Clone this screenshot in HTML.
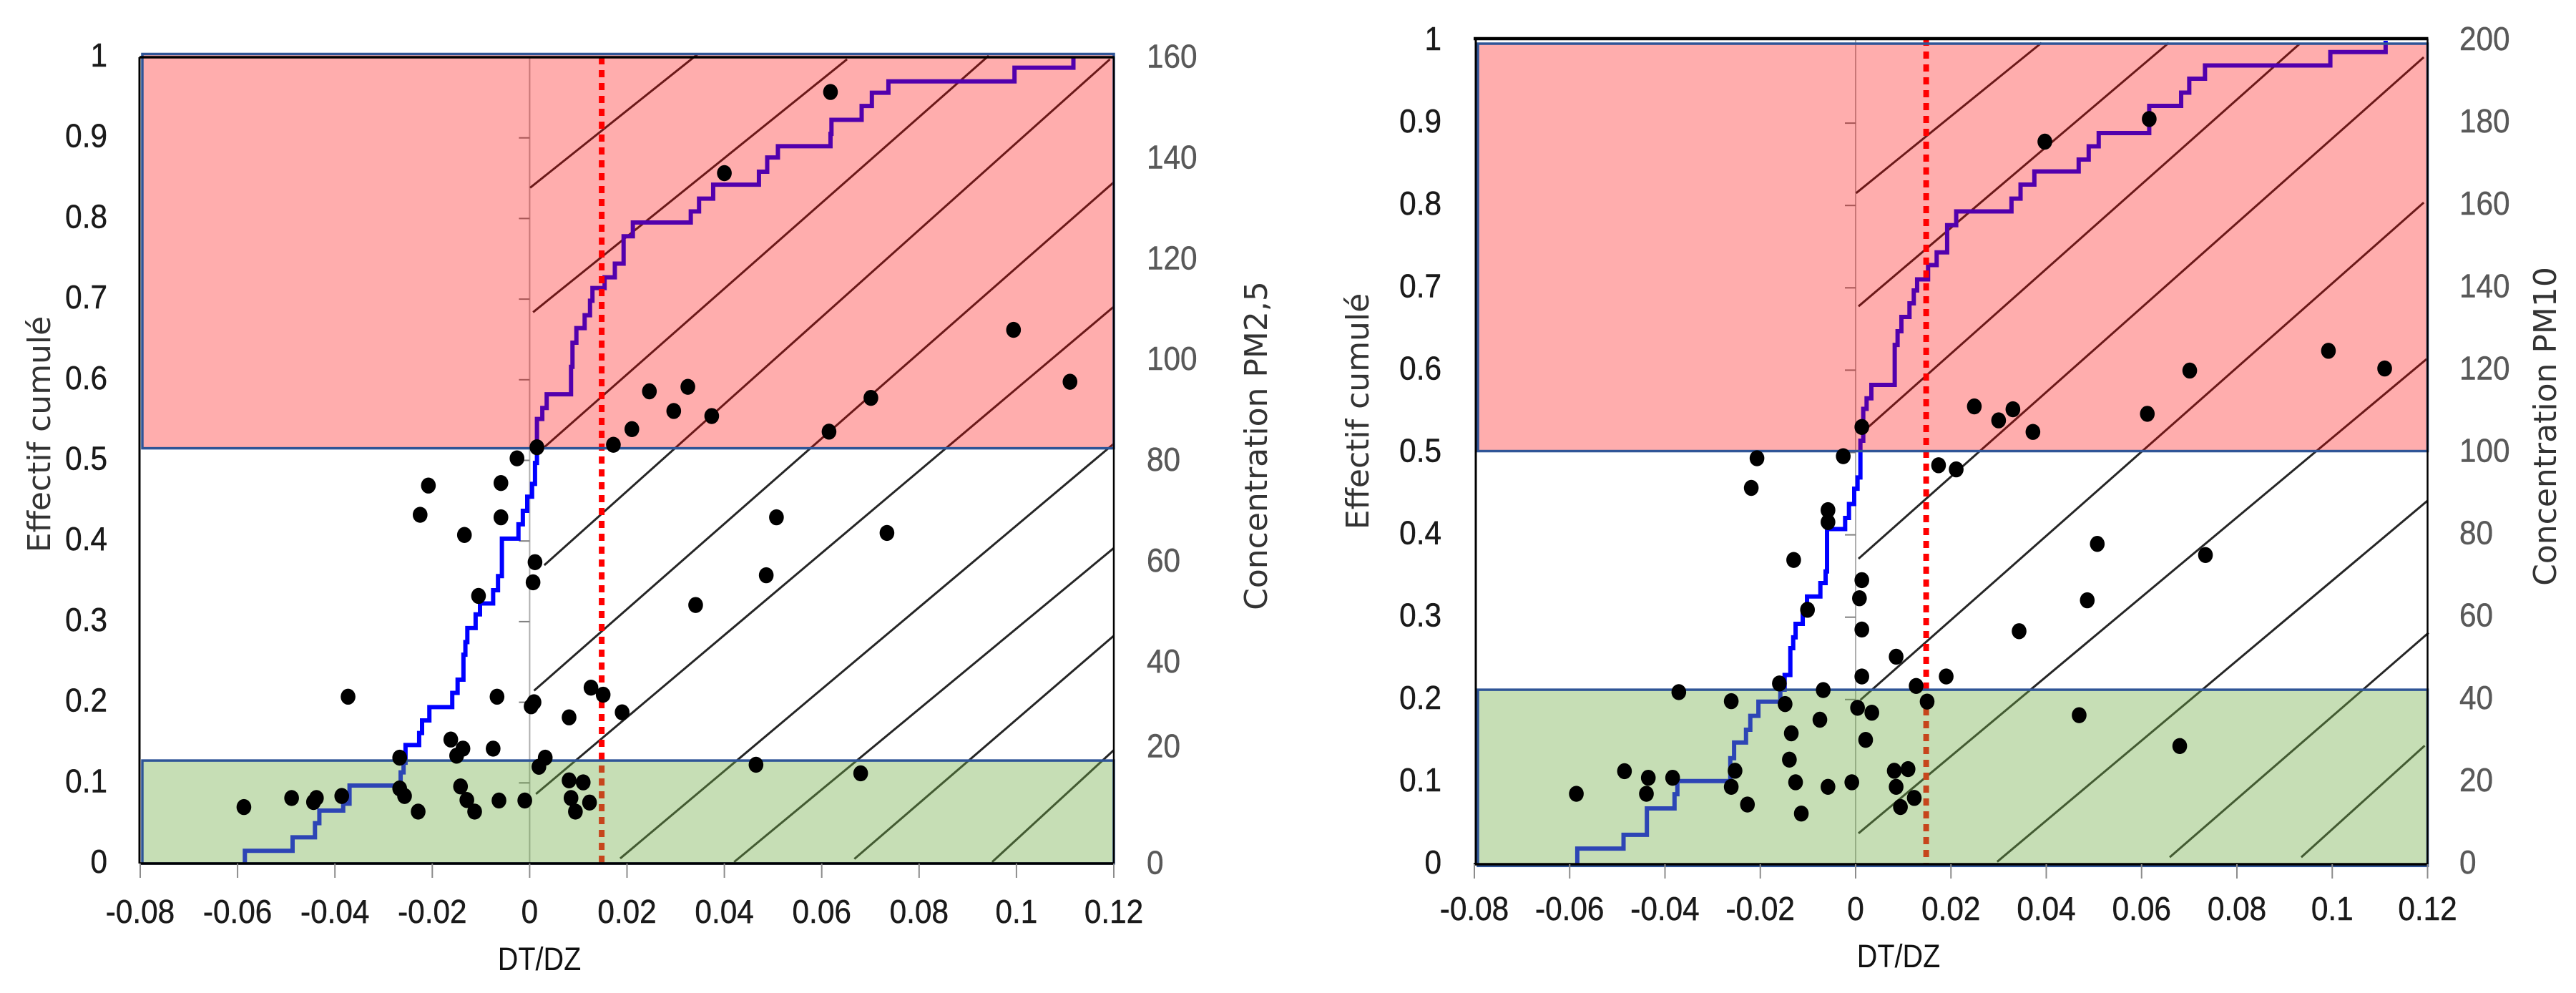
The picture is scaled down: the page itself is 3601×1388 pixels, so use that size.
<!DOCTYPE html>
<html lang="fr">
<head>
<meta charset="utf-8">
<title>Effectif cumulé et concentration en fonction de DT/DZ</title>
<style>
  html, body { margin: 0; padding: 0; background: #ffffff; }
  #figure { display: block; width: 3601px; height: 1388px; }
  .title { font-family: "DejaVu Sans", sans-serif; font-size: 44px; fill: #333333; }
  .xtitle { font-family: "Liberation Sans", sans-serif; font-size: 45px; fill: #111111; }
</style>
</head>
<body>
<svg id="figure" xmlns="http://www.w3.org/2000/svg" width="3601" height="1388" viewBox="0 0 3601 1388">
  <rect x="0" y="0" width="3601" height="1388" fill="#ffffff"/>
  <g id="panel-pm25"></g>
  <g id="panel-pm10"></g>
  <text class="title" text-anchor="middle" transform="translate(70,607) rotate(-90)">Effectif cumulé</text>
  <text class="title" text-anchor="middle" transform="translate(1771,623) rotate(-90)">Concentration PM2,5</text>
  <text class="xtitle" text-anchor="middle" transform="translate(754,1356) scale(0.88,1)">DT/DZ</text>
  <text class="title" text-anchor="middle" transform="translate(1913,575) rotate(-90)">Effectif cumulé</text>
  <text class="title" text-anchor="middle" transform="translate(3573,596) rotate(-90)">Concentration PM10</text>
  <text class="xtitle" text-anchor="middle" transform="translate(2654,1352) scale(0.88,1)">DT/DZ</text>
</svg>
<script>
// ---------- Shared axis values ----------
const xTicks = [-0.08, -0.06, -0.04, -0.02, 0, 0.02, 0.04, 0.06, 0.08, 0.1, 0.12];
const leftTicks = [0, 0.1, 0.2, 0.3, 0.4, 0.5, 0.6, 0.7, 0.8, 0.9, 1];
const thresholdDtdz = 0.0148;

// ---------- PM2.5 panel data ----------
const pm25RightTicks = [0, 20, 40, 60, 80, 100, 120, 140, 160];
const pm25Dtdz = [0.0015,-0.0026,-0.0208,-0.0059,0.0172,0.021,0.0246,0.0618,0.04,0.0994,0.111,0.0325,0.0296,0.0374,0.0701,0.0615,
  -0.0225,-0.0059,-0.0134,0.0011,0.0007,-0.0105,-0.0373,-0.0067,0.0009,0.0003,0.0126,0.0151,0.0081,0.019,-0.0162,-0.0137,-0.015,-0.0075,-0.0267,0.0032,0.0019,-0.0142,0.0081,0.011,-0.0267,-0.0257,-0.0386,-0.0489,-0.0438,-0.0444,-0.0587,-0.0229,-0.0129,-0.0113,-0.0063,-0.001,0.0085,0.0123,0.0094,
  0.0507,0.0734,0.0486,0.0341,0.0465,0.068];
const pm25Conc = [82.6,80.4,75,75.5,83.1,86.2,93.7,153.1,137,105.9,95.6,94.6,89.8,88.8,92.4,85.7,
  69.2,68.7,65.2,59.8,55.8,53.1,33.1,33.1,32,31.2,34.9,33.5,29,30,24.6,22.8,21.4,22.8,21,21,19.2,15.3,16.5,16.1,14.9,13.4,13.4,13,13,12.2,11.2,10.3,12.6,10.3,12.5,12.5,13,12.1,10.3,
  68.7,65.6,57.2,51.3,19.6,17.9];
const pm25CurveX = [-0.0585,-0.0487,-0.0441,-0.0432,-0.0383,-0.037,-0.0265,-0.0259,-0.0255,-0.0227,-0.0221,-0.0206,-0.0159,-0.0148,-0.0136,-0.0132,-0.0128,-0.0111,-0.0102,-0.0075,-0.0065,-0.0057,-0.0023,-0.0014,-0.0005,0.0005,0.0011,0.0015,0.0026,0.0035,0.0085,0.0088,0.0096,0.0113,0.0124,0.0129,0.0154,0.0175,0.0193,0.0212,0.0331,0.0348,0.0377,0.0471,0.0488,0.051,0.0618,0.062,0.0682,0.0703,0.0737,0.0996,0.1117];
const pm25CurveY = [0.0157,0.0325,0.05,0.0657,0.0742,0.0967,0.113,0.125,0.147,0.1618,0.1775,0.194,0.2116,0.228,0.259,0.2746,0.292,0.309,0.3225,0.339,0.3565,0.403,0.4207,0.4375,0.455,0.4708,0.4968,0.5513,0.565,0.582,0.616,0.646,0.664,0.68,0.698,0.7137,0.727,0.744,0.778,0.795,0.8088,0.8246,0.842,0.858,0.8757,0.8896,0.905,0.9224,0.9395,0.956,0.97,0.987,1];
const pm25HatchX0 = [0.0001,0.0007,0.003,0.003,0.0009,0.0013,0.0186,0.042,0.0667,0.095];
const pm25HatchC0 = [134.1,109.4,82.6,59.2,34.3,13.8,1,0.3,0.9,0.3];
const pm25HatchX1 = [0.0345,0.0652,0.0943,0.1192,0.12,0.12,0.12,0.12,0.12,0.12];
const pm25HatchC1 = [160.6,159.6,160.3,159.6,135.2,110.5,83.3,62.6,45.2,22.5];
const pm25HighBand = [0.515, 1.004];
const pm25LowBand = [0, 0.1277];

// ---------- PM10 panel data ----------
const pm10RightTicks = [0, 20, 40, 60, 80, 100, 120, 140, 160, 180, 200];
const pm10Dtdz = [0.0013,-0.0207,-0.0026,-0.0219,0.0397,0.0616,0.0992,0.111,0.0701,0.0249,0.033,0.03,0.0372,0.0612,0.0174,0.0211,
  -0.0058,-0.0058,-0.013,0.0013,0.0008,-0.0101,0.0013,0.0085,0.0013,-0.016,0.0127,-0.0068,-0.0371,-0.0261,-0.0148,0.015,0.0004,0.0034,-0.0075,-0.0135,0.0021,-0.0139,-0.0253,-0.0485,0.0081,0.011,-0.0435,-0.0384,-0.0261,-0.0126,-0.0058,-0.0008,0.0085,-0.0586,-0.0439,0.0123,-0.0227,0.0094,-0.0114,
  0.0507,0.0734,0.0486,0.0343,0.019,0.0469,0.068];
const pm10Conc = [106.2,98.6,99.1,91.4,175.5,181,124.7,120.4,119.9,111.2,110.5,107.8,105,109.4,96.9,95.9,
  86,83.1,73.9,69,64.6,61.8,57,50.4,45.6,43.9,43.3,42.3,41.8,39.6,38.9,39.5,38,36.8,35.1,31.8,30.2,25.4,22.7,22.6,22.7,23.1,21,21,18.8,19.9,18.8,19.9,18.8,17.1,17.1,16.1,14.5,13.9,12.3,
  77.8,75.1,64.1,56.6,45.6,36.2,28.7];
const pm10CurveX = [-0.0584,-0.0487,-0.0438,-0.038,-0.0374,-0.0263,-0.0255,-0.023,-0.0221,-0.0204,-0.0158,-0.0149,-0.0137,-0.0131,-0.0126,-0.0111,-0.0102,-0.0074,-0.0063,-0.006,-0.0022,-0.0014,-0.0003,0.0004,0.001,0.0016,0.0023,0.0033,0.0082,0.0088,0.0096,0.0113,0.0122,0.0129,0.0152,0.017,0.0192,0.0211,0.0327,0.0346,0.0375,0.0468,0.0489,0.051,0.0616,0.0683,0.07,0.0733,0.0996,0.1112];
const pm10CurveY = [0.019,0.0357,0.0678,0.085,0.101,0.1288,0.1478,0.1633,0.1802,0.1974,0.212,0.2298,0.2624,0.2755,0.2919,0.3079,0.3251,0.3414,0.3556,0.407,0.4205,0.4375,0.456,0.4697,0.5143,0.553,0.5658,0.5821,0.6307,0.6473,0.6646,0.6811,0.6968,0.7102,0.7276,0.7431,0.7761,0.7928,0.8083,0.8254,0.8413,0.8558,0.8719,0.8879,0.9209,0.937,0.9539,0.97,0.9863,1];
const pm10HatchX0 = [0.0001,0.0006,0.0021,0.0006,0.001,0.0006,0.0297,0.0659,0.0935];
const pm10HatchC0 = [163,135.5,105.6,74.2,39.9,7.5,0.6,1.7,1.7];
const pm10HatchX1 = [0.039,0.0657,0.0931,0.1192,0.1192,0.1198,0.12,0.1202,0.1194];
const pm10HatchC1 = [199.5,199.5,199.2,196,160.7,122.7,88.3,56.2,28.8];
const pm10HighBand = [0.5017, 0.9965];
const pm10LowBand = [-0.002, 0.2119];

const SVG_NS = 'http://www.w3.org/2000/svg';

function make(parent, tag, attrs) {
  const el = document.createElementNS(SVG_NS, tag);
  for (const k in attrs) el.setAttribute(k, attrs[k]);
  parent.appendChild(el);
  return el;
}

function label(parent, str, x, y, anchor, color) {
  const t = make(parent, 'text', {
    transform: 'translate(' + x + ',' + y + ') scale(0.92,1)',
    'text-anchor': anchor,
    fill: color,
    stroke: color,
    'stroke-width': 0.5,
    'font-family': '"Liberation Sans", sans-serif',
    'font-size': 46
  });
  t.textContent = str;
  return t;
}

function drawPanel(cfg) {
  const root = document.getElementById(cfg.id);
  const xScale = v => cfg.xLeft + (v + 0.08) / 0.2 * (cfg.xRight - cfg.xLeft);
  const yScale = v => cfg.yBottom - v * (cfg.yBottom - cfg.yTop);
  const y2Scale = v => yScale(v / cfg.rightMax);

  // zero axis
  const zeroLine = make(root, 'line', { x1: xScale(0), x2: xScale(0), y1: cfg.frameTop, y2: cfg.yBottom, stroke: '#aeaeae', 'stroke-width': 2 });
  
  

  // zero-axis ticks
  leftTicks.forEach(function (v) {
    if (v === 0 || v === 1) return;
    const tick = make(root, 'line', { x1: xScale(0) - 15, x2: xScale(0), y1: yScale(v), y2: yScale(v), stroke: '#7f7f7f', 'stroke-width': 2 });
    
    
  });

  // diagonal reference lines
  cfg.hatchX0.forEach(function (x0, i) {
    const line = make(root, 'line', {
      x1: xScale(x0), y1: y2Scale(cfg.hatchC0[i]),
      x2: xScale(cfg.hatchX1[i]), y2: y2Scale(cfg.hatchC1[i]),
      stroke: '#262626', 'stroke-width': 3
    });
    
    
  });

  // cumulative step curve
  let d = 'M' + xScale(cfg.curveX[0]) + ' ' + yScale(0);
  d += 'V' + yScale(cfg.curveY[0]);
  for (let i = 1; i < cfg.curveX.length; i++) {
    d += 'H' + xScale(cfg.curveX[i]) + 'V' + yScale(cfg.curveY[i]);
  }
  const curve = make(root, 'path', { d: d, fill: 'none', stroke: '#0000ff', 'stroke-width': 6, 'stroke-linejoin': 'miter' });
  
  

  // threshold line
  const red = make(root, 'line', {
    x1: xScale(thresholdDtdz), x2: xScale(thresholdDtdz), y1: cfg.frameTop, y2: cfg.yBottom,
    stroke: '#ff0000', 'stroke-width': 8, 'stroke-dasharray': '10 8'
  });
  
  

  // shaded bands
  const bandLeft = cfg.bandLeft;
  const bandWidth = cfg.xRight - bandLeft;
  const high = make(root, 'rect', {
    x: bandLeft, y: yScale(cfg.highBand[1]), width: bandWidth,
    height: yScale(cfg.highBand[0]) - yScale(cfg.highBand[1]),
    fill: 'rgba(255,0,0,0.32)', stroke: '#2f5597', 'stroke-width': 3.5
  });
  
  
  const low = make(root, 'rect', {
    x: bandLeft, y: yScale(cfg.lowBand[1]), width: bandWidth,
    height: yScale(cfg.lowBand[0]) - yScale(cfg.lowBand[1]),
    fill: 'rgba(112,173,71,0.4)', stroke: '#2f5597', 'stroke-width': 3.5
  });
  
  

  // frame
  const frameTop = make(root, 'line', { x1: cfg.xLeft - 1, x2: cfg.xRight + 1, y1: cfg.frameTop, y2: cfg.frameTop, stroke: '#000000', 'stroke-width': cfg.topWidth });
  
  
  const frameBottom = make(root, 'line', { x1: cfg.xLeft - 1, x2: cfg.xRight + 1, y1: cfg.yBottom, y2: cfg.yBottom, stroke: '#000000', 'stroke-width': 3.5 });
  
  
  const frameLeft = make(root, 'line', { x1: cfg.axisLeft, x2: cfg.axisLeft, y1: cfg.frameTop, y2: cfg.yBottom, stroke: '#000000', 'stroke-width': 3 });
  
  
  const frameRight = make(root, 'line', { x1: cfg.xRight, x2: cfg.xRight, y1: cfg.frameTop, y2: cfg.yBottom, stroke: '#000000', 'stroke-width': 2.5 });
  
  

  // x ticks and labels
  xTicks.forEach(function (v) {
    const tick = make(root, 'line', { x1: xScale(v), x2: xScale(v), y1: cfg.yBottom, y2: cfg.yBottom + 20, stroke: '#8c8c8c', 'stroke-width': 2 });
    
    
    const t = label(root, String(v), xScale(v), cfg.xLabelBaseline, 'middle', '#1a1a1a');
    
    
  });

  // left axis labels
  leftTicks.forEach(function (v) {
    const t = label(root, String(v), cfg.leftLabelX, yScale(v) + 13, 'end', '#1a1a1a');
    
    
  });

  // right axis labels
  cfg.rightTicks.forEach(function (v) {
    const nudge = cfg.rightNudge[v] || 0;
    const t = label(root, String(v), cfg.rightLabelX, y2Scale(v) + cfg.rightLabelOffset + nudge, 'start', '#595959');
    
    
  });

  // scatter points
  cfg.dtdz.forEach(function (x, i) {
    const dot = make(root, 'ellipse', { cx: xScale(x), cy: y2Scale(cfg.conc[i]), rx: 10.3, ry: 11.2, fill: '#000000' });
    
    
  });
}

drawPanel({
  id: 'panel-pm25', xLeft: 196, xRight: 1557, yTop: 80, yBottom: 1207, frameTop: 80, topWidth: 3.5,
  axisLeft: 195, bandLeft: 199, rightMax: 160, rightTicks: pm25RightTicks, rightNudge: { 20: -22 },
  leftLabelX: 150, rightLabelX: 1603, rightLabelOffset: 14.5, xLabelBaseline: 1290,
  dtdz: pm25Dtdz, conc: pm25Conc, curveX: pm25CurveX, curveY: pm25CurveY,
  hatchX0: pm25HatchX0, hatchC0: pm25HatchC0, hatchX1: pm25HatchX1, hatchC1: pm25HatchC1,
  highBand: pm25HighBand, lowBand: pm25LowBand
});

drawPanel({
  id: 'panel-pm10', xLeft: 2061, xRight: 3393.5, yTop: 57, yBottom: 1208, frameTop: 54, topWidth: 4.5,
  axisLeft: 2063, bandLeft: 2066, rightMax: 200, rightTicks: pm10RightTicks, rightNudge: {},
  leftLabelX: 2015, rightLabelX: 3438, rightLabelOffset: 13, xLabelBaseline: 1286,
  dtdz: pm10Dtdz, conc: pm10Conc, curveX: pm10CurveX, curveY: pm10CurveY,
  hatchX0: pm10HatchX0, hatchC0: pm10HatchC0, hatchX1: pm10HatchX1, hatchC1: pm10HatchC1,
  highBand: pm10HighBand, lowBand: pm10LowBand
});
</script>
</body>
</html>
